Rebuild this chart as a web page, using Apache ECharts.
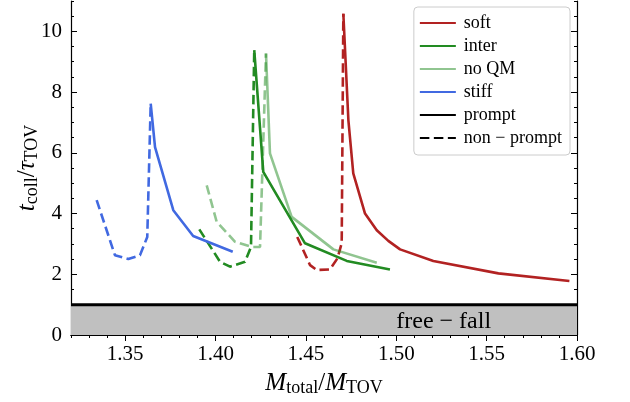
<!DOCTYPE html>
<html>
<head>
<meta charset="utf-8">
<script src="https://cdn.jsdelivr.net/npm/echarts@6/dist/echarts.min.js"></script>
<style>
  html, body { margin: 0; padding: 0; background: #fff; }
  #chart { width: 630px; height: 402px; }
</style>
</head>
<body>
<div id="chart"></div>
<script>
// values (M_total/M_TOV, t_coll/tau_TOV)
const softPromptX = [1.4707, 1.4735, 1.4762, 1.4827, 1.4892, 1.4956, 1.5021, 1.5205, 1.5565, 1.5958]
const softPromptY = [10.58, 7.07, 5.32, 4.0, 3.45, 3.1, 2.82, 2.44, 2.03, 1.78]
const softNonPromptX = [1.4452, 1.4523, 1.456, 1.4633, 1.4674, 1.4698, 1.4707]
const softNonPromptY = [3.23, 2.3, 2.14, 2.16, 2.52, 3.02, 10.58]

const interPromptX = [1.4214, 1.4264, 1.4495, 1.4726, 1.4965]
const interPromptY = [9.38, 5.37, 3.02, 2.44, 2.16]
const interNonPromptX = [1.391, 1.4025, 1.408, 1.4163, 1.4196, 1.4214]
const interNonPromptY = [3.48, 2.41, 2.25, 2.41, 2.9, 9.38]

const noQMPromptX = [1.4279, 1.4301, 1.4421, 1.4652, 1.4892]
const noQMPromptY = [9.27, 5.98, 3.89, 2.82, 2.38]
const noQMNonPromptX = [1.3951, 1.4006, 1.4108, 1.42, 1.4246, 1.4279]
const noQMNonPromptY = [4.93, 3.73, 3.07, 2.9, 2.9, 9.27]

const stiffPromptX = [1.3641, 1.3665, 1.3766, 1.3876, 1.4095]
const stiffPromptY = [7.62, 6.19, 4.11, 3.26, 2.74]
const stiffNonPromptX = [1.3342, 1.3443, 1.3517, 1.3582, 1.3622, 1.3641]
const stiffNonPromptY = [4.44, 2.63, 2.5, 2.63, 3.23, 7.62]

const freeFallX = [1.32, 1.60]
const freeFallY = [1, 1]

const xMajorTicks = [1.35, 1.40, 1.45, 1.50, 1.55, 1.60]
const yMajorTicks = [0, 2, 4, 6, 8, 10]
const xMinorTicks = []
for (let i = 132; i <= 160; i++) xMinorTicks.push(i / 100)
const yMinorTicks = []
for (let i = 0; i <= 22; i++) yMinorTicks.push(i / 2)

const font = 'Liberation Serif'
const pairs = (xs, ys) => xs.map((x, i) => [x, ys[i]])

const chart = echarts.init(document.getElementById('chart'))

function lineSeries(name, xs, ys, color, dashed) {
  return {
    name: name,
    type: 'line',
    xAxisIndex: 0,
    yAxisIndex: 0,
    data: pairs(xs, ys),
    symbol: 'none',
    lineStyle: { color: color, width: 2.6, type: dashed ? [9.5, 4.5] : 'solid' },
    itemStyle: { color: color },
    z: 3
  }
}

function tickAxis(pos, values, len, withLine) {
  const isX = pos === 'top' || pos === 'bottom'
  return {
    type: 'value',
    position: pos,
    min: isX ? 1.32 : 0,
    max: isX ? 1.60 : 11,
    axisLine: { show: withLine, lineStyle: { color: '#000', width: 1.2 } },
    axisTick: { show: true, inside: true, length: len, customValues: values, lineStyle: { color: '#000', width: 1 } },
    axisLabel: { show: false },
    splitLine: { show: false }
  }
}

const subStyle = { fontFamily: font, fontSize: 18, color: '#000', padding: [10, 0, 0, 0] }
const mainStyle = { fontFamily: font, fontSize: 25, color: '#000' }
const italStyle = { fontFamily: font, fontSize: 25, fontStyle: 'italic', color: '#000' }

const option = {
  animation: false,
  backgroundColor: '#fff',
  grid: { left: 71, right: 53, top: 1, bottom: 67, outerBoundsMode: 'none' },
  legend: {
    orient: 'vertical',
    right: 60,
    top: 7,
    data: ['soft', 'inter', 'no QM', 'stiff', 'prompt', 'non − prompt'],
    backgroundColor: '#fff',
    borderColor: '#cccccc',
    borderWidth: 1,
    borderRadius: 4,
    padding: [7, 8, 8, 5],
    itemWidth: 36,
    itemHeight: 15,
    itemGap: 5,
    itemStyle: { opacity: 0 },
    textStyle: { fontFamily: font, fontSize: 18, color: '#000', lineHeight: 15, padding: [0, 0, 0, 3] }
  },
  xAxis: [
    {
      type: 'value',
      position: 'bottom',
      min: 1.32,
      max: 1.60,
      name: '{i|M}{s|total}{n|/}{i|M}{s|TOV}',
      nameLocation: 'middle',
      nameGap: 34,
      nameTextStyle: { rich: { i: italStyle, s: subStyle, n: mainStyle } },
      axisLine: { lineStyle: { color: '#000', width: 1.2 } },
      axisTick: { inside: true, length: 6, customValues: xMajorTicks, lineStyle: { color: '#000', width: 1 } },
      axisLabel: {
        customValues: xMajorTicks,
        formatter: v => v.toFixed(2),
        fontFamily: font,
        fontSize: 21,
        color: '#000',
        margin: 9
      },
      splitLine: { show: false }
    },
    tickAxis('top', xMajorTicks, 6, true),
    tickAxis('bottom', xMinorTicks, 3, false),
    tickAxis('top', xMinorTicks, 3, false)
  ],
  yAxis: [
    {
      type: 'value',
      position: 'left',
      min: 0,
      max: 11,
      name: '{i|t}{s|coll}{n|/}{i|τ}{s|TOV}',
      nameLocation: 'middle',
      nameGap: 30,
      nameMoveOverlap: false,
      nameRotate: 90,
      nameTextStyle: { rich: { i: italStyle, s: subStyle, n: mainStyle } },
      axisLine: { lineStyle: { color: '#000', width: 1.2 } },
      axisTick: { inside: true, length: 6, customValues: yMajorTicks, lineStyle: { color: '#000', width: 1 } },
      axisLabel: {
        customValues: yMajorTicks,
        fontFamily: font,
        fontSize: 21,
        color: '#000',
        margin: 9
      },
      splitLine: { show: false }
    },
    tickAxis('right', yMajorTicks, 6, true),
    tickAxis('left', yMinorTicks, 3, false),
    tickAxis('right', yMinorTicks, 3, false)
  ],
  series: [
    {
      name: 'free-fall',
      type: 'line',
      data: pairs(freeFallX, freeFallY),
      symbol: 'none',
      lineStyle: { color: '#000', width: 3 },
      areaStyle: { color: '#c0c0c0', opacity: 1, origin: 'start' },
      z: 2,
      markPoint: {
        symbol: 'circle',
        symbolSize: 0,
        data: [{ coord: [1.50, 0.45] }],
        label: {
          show: true,
          position: 'right',
          distance: 0,
          formatter: 'free − fall',
          fontFamily: font,
          fontSize: 24,
          color: '#000'
        }
      }
    },
    lineSeries('soft', softPromptX, softPromptY, '#b22222', false),
    lineSeries('soft np', softNonPromptX, softNonPromptY, '#b22222', true),
    lineSeries('inter', interPromptX, interPromptY, '#228b22', false),
    lineSeries('inter np', interNonPromptX, interNonPromptY, '#228b22', true),
    lineSeries('no QM', noQMPromptX, noQMPromptY, 'rgba(34,139,34,0.5)', false),
    lineSeries('no QM np', noQMNonPromptX, noQMNonPromptY, 'rgba(34,139,34,0.5)', true),
    lineSeries('stiff', stiffPromptX, stiffPromptY, '#4169e1', false),
    lineSeries('stiff np', stiffNonPromptX, stiffNonPromptY, '#4169e1', true),
    lineSeries('prompt', [], [], '#000', false),
    lineSeries('non − prompt', [], [], '#000', true)
  ]
}

chart.setOption(option)
</script>
</body>
</html>
